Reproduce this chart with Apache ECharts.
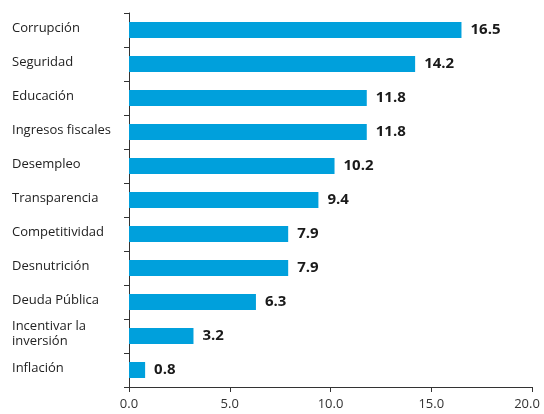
<!DOCTYPE html>
<html><head><meta charset="utf-8">
<script src="https://cdn.jsdelivr.net/npm/echarts@6/dist/echarts.min.js"></script>
<style>html,body{margin:0;padding:0;background:#fff}#c{width:544px;height:414px}</style>
</head><body><div id="c"></div>
<script>
const categories = ["Corrupción","Seguridad","Educación","Ingresos fiscales","Desempleo","Transparencia","Competitividad","Desnutrición","Deuda Pública","Incentivar la\ninversión","Inflación"];
const values = [16.5,14.2,11.8,11.8,10.2,9.4,7.9,7.9,6.3,3.2,0.8];
const xTicks = [0,5,10,15,20];

const xMax = xTicks[xTicks.length-1];
const chart = echarts.init(document.getElementById('c'));
chart.setOption({
  animation:false,
  grid:{left:129,right:12,top:13,bottom:27,containLabel:false,outerBoundsMode:'none'},
  xAxis:{type:'value',min:xTicks[0],max:xMax,interval:5,
    axisLine:{show:true,lineStyle:{color:'#333',width:1}},
    axisTick:{show:true,length:5,lineStyle:{color:'#333'}},
    splitLine:{show:false},
    axisLabel:{formatter:v=> v===xMax ? '{r|'+v.toFixed(1)+'}' : v.toFixed(1),
      rich:{r:{padding:[0,10,0,0],color:'#333',fontSize:13,fontFamily:'Open Sans'}},
      color:'#333',fontSize:13,fontFamily:'Open Sans',margin:11}
  },
  yAxis:{type:'category',data:categories,inverse:true,
    axisLine:{show:true,lineStyle:{color:'#333',width:1}},
    axisTick:{show:true,length:5,alignWithLabel:false,lineStyle:{color:'#333'}},
    axisLabel:{align:'left',margin:117,
      formatter:v=>v.split('\n').map(s=>'{a|'+s+'}').join('\n'),
      rich:{a:{color:'#222',fontSize:13,fontFamily:'Open Sans',lineHeight:15}},
      color:'#222',fontSize:13,fontFamily:'Open Sans',lineHeight:15,padding:[0,0,4,0]}
  },
  series:[{type:'bar',data:values,barWidth:16,
    itemStyle:{color:'#00A0DC'},
    label:{show:true,position:'right',distance:9,formatter:p=>p.value.toFixed(1),
      color:'#1a1a1a',fontSize:15,fontWeight:'bold',fontFamily:'Open Sans'}
  }]
});
</script></body></html>
